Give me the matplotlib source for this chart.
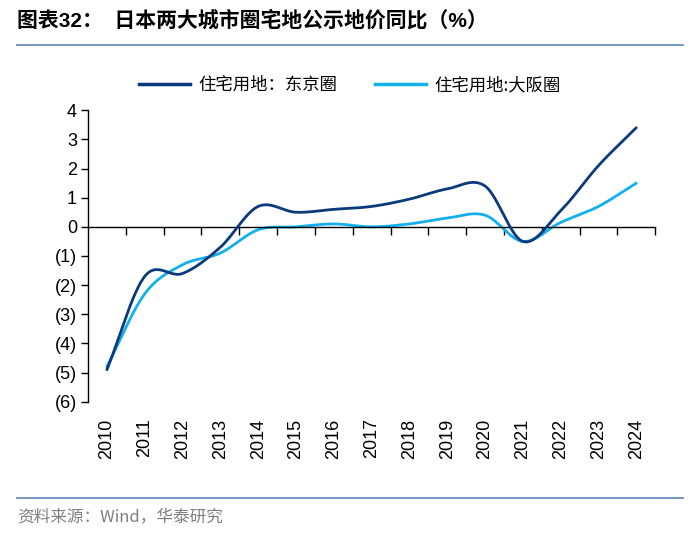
import numpy as np
import matplotlib
matplotlib.use("Agg")
import matplotlib.pyplot as plt
from matplotlib.lines import Line2D

plt.rcParams['font.family'] = ['Liberation Sans', 'Noto Sans CJK SC', 'DejaVu Sans']

years = [2010, 2011, 2012, 2013, 2014, 2015, 2016, 2017, 2018, 2019, 2020, 2021, 2022, 2023, 2024]
tokyo = [-4.9, -1.7, -1.6, -0.7, 0.7, 0.5, 0.6, 0.7, 0.95, 1.3, 1.4, -0.5, 0.55, 2.1, 3.4]
osaka = [-4.8, -2.3, -1.3, -0.9, -0.1, 0.0, 0.1, 0.0, 0.1, 0.3, 0.4, -0.5, 0.15, 0.7, 1.5]
ytick_vals = [4, 3, 2, 1, 0, -1, -2, -3, -4, -5, -6]
ytick_text = ['4', '3', '2', '1', '0', '(1)', '(2)', '(3)', '(4)', '(5)', '(6)']

name_tokyo = '住宅用地：东京圈'
name_osaka = '住宅用地:大阪圈'
title = '图表32：  日本两大城市圈宅地公示地价同比（%）'
source = '资料来源：Wind，华泰研究'

c_dark = '#0a3a7c'
c_light = '#12b0ee'
c_rule = '#6a8cc0'


def smooth(y, n=30):
    # Catmull-Rom style smoothing, like Excel smoothed lines
    y = np.asarray(y, dtype=float)
    x = np.arange(len(y), dtype=float)
    m = np.zeros_like(y)
    m[1:-1] = (y[2:] - y[:-2]) / 2
    m[0] = y[1] - y[0]
    m[-1] = y[-1] - y[-2]
    xs, ys = [], []
    for i in range(len(y) - 1):
        t = np.linspace(0, 1, n, endpoint=False)
        h00 = 2 * t**3 - 3 * t**2 + 1
        h10 = t**3 - 2 * t**2 + t
        h01 = -2 * t**3 + 3 * t**2
        h11 = t**3 - t**2
        xs.append(x[i] + t)
        ys.append(h00 * y[i] + h10 * m[i] + h01 * y[i + 1] + h11 * m[i + 1])
    xs.append([x[-1]])
    ys.append([y[-1]])
    return np.concatenate(xs), np.concatenate(ys)


fig = plt.figure(figsize=(7, 5.35), dpi=100)
ax = fig.add_axes([0.1257, 0.249, 0.8103, 0.545])

xt, yt = smooth(tokyo)
xo, yo = smooth(osaka)
ax.plot(xt, yt, color=c_dark, lw=2.0, solid_capstyle='round', zorder=3)
ax.plot(xo, yo, color=c_light, lw=2.0, solid_capstyle='round', zorder=2)

ax.set_xlim(-0.5, len(years) - 0.5)
ax.set_ylim(-6, 4)

for s in ['top', 'right']:
    ax.spines[s].set_visible(False)
ax.spines['bottom'].set_position(('data', 0))
ax.spines['bottom'].set_color('black')
ax.spines['bottom'].set_linewidth(1.0)
ax.spines['left'].set_linewidth(1.0)

ax.set_yticks(ytick_vals)
ax.set_yticklabels(ytick_text, fontsize=13)
ax.tick_params(axis='y', direction='out', length=5, width=1.0, pad=3)

ax.set_xticks(np.arange(len(years)) + 0.5)
ax.set_xticklabels([])
ax.tick_params(axis='x', direction='out', length=6, width=1.0)

sec = ax.secondary_xaxis(0)
sec.set_xticks(np.arange(len(years)))
sec.set_xticklabels([str(y) for y in years], rotation=90, fontsize=13)
sec.tick_params(axis='x', length=0, pad=12)
sec.spines['bottom'].set_visible(False)

handles = [Line2D([], [], color=c_dark, lw=2.5), Line2D([], [], color=c_light, lw=2.5)]
fig.legend(handles, [name_tokyo, name_osaka], loc='center', bbox_to_anchor=(0.5, 0.841),
           ncol=2, frameon=False, handlelength=2.9, columnspacing=2.2, handletextpad=0.5,
           prop={'family': ['Noto Sans CJK SC'], 'size': 12.5})

fig.text(0.024, 0.962, title, fontsize=15, fontweight='bold', va='center', ha='left',
         family=['Liberation Sans', 'Noto Sans CJK SC'])
fig.add_artist(Line2D([0.024, 0.976], [0.916, 0.916], color=c_rule, lw=1.3))
fig.add_artist(Line2D([0.024, 0.976], [0.069, 0.069], color=c_rule, lw=1.3))
fig.text(0.024, 0.034, source, fontsize=12, color='#808080', va='center', ha='left',
         family=['Noto Sans CJK SC', 'Liberation Sans'])

fig.savefig('out.png', dpi=100)
